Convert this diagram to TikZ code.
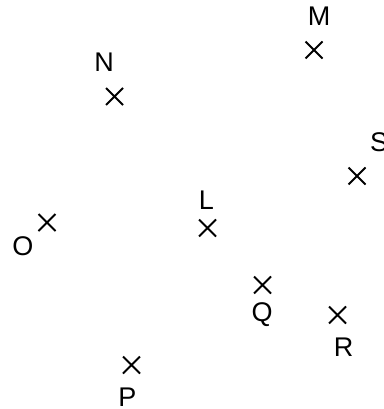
\documentclass[tikz,border=0pt]{standalone}
\usepackage{fontspec}
\setmainfont{Liberation Sans}
\usetikzlibrary{shapes.misc}
\newcommand{\lblfont}{\fontsize{27}{30}\selectfont}
\begin{document}
\begin{tikzpicture}[x=1pt,y=-1pt,
  pt/.style={draw,cross out,minimum size=15pt,inner sep=0pt,line width=2pt},
  lbl/.style={inner sep=0pt,anchor=center}]
\useasboundingbox (0,0) rectangle (383,409);
\node[pt] (M) at (314,50) {};
\node[lbl] (Mt) at (319,16) {\lblfont M};
\node[pt] (N) at (114.5,96.5) {};
\node[lbl] (Nt) at (104,62.5) {\lblfont N};
\node[pt] (S) at (357,176) {};
\node[lbl] (St) at (379,142.5) {\lblfont S};
\node[pt] (O) at (47,222.5) {};
\node[lbl] (Ot) at (23,246.5) {\lblfont O};
\node[pt] (L) at (207.5,228) {};
\node[lbl] (Lt) at (206.5,200) {\lblfont L};
\node[pt] (Q) at (262.5,285) {};
\node[lbl] (Qt) at (262,315) {\lblfont Q};
\node[pt] (R) at (337.5,315) {};
\node[lbl] (Rt) at (343.5,347) {\lblfont R};
\node[pt] (P) at (131.5,365) {};
\node[lbl] (Pt) at (127.5,397) {\lblfont P};
\end{tikzpicture}
\end{document}
